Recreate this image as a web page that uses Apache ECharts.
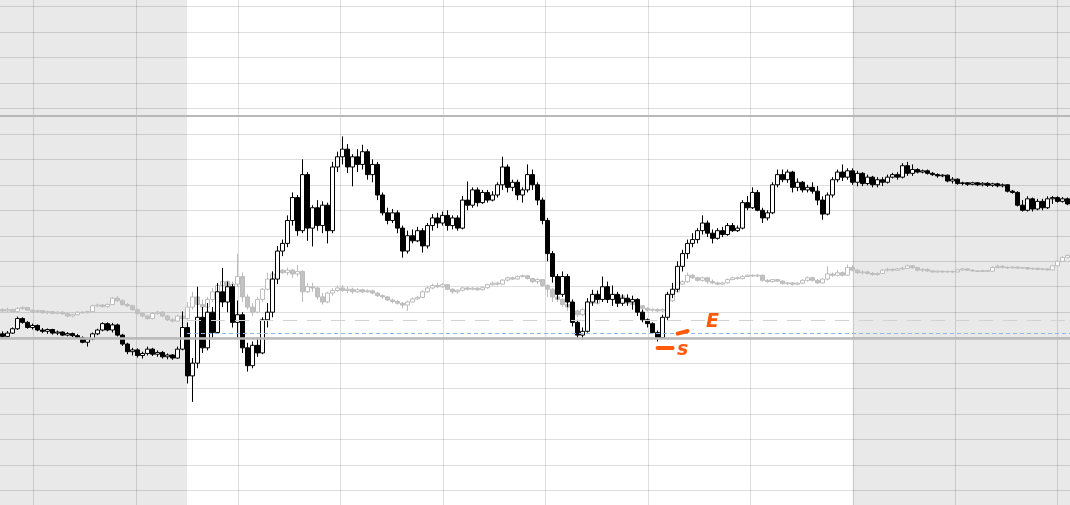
<!DOCTYPE html>
<html>
<head>
<meta charset="utf-8">
<script src="https://cdn.jsdelivr.net/npm/echarts@6/dist/echarts.min.js"></script>
<style>
html,body{margin:0;padding:0;background:#fff;overflow:hidden;width:1070px;height:505px;position:relative;}
#chart{position:absolute;left:-69.1px;top:-18.6px;width:1228.8px;height:534.9px;}
</style>
</head>
<body>
<div id="chart"></div>
<script>
// Candles: [open, close, low, high]
const blackCandles = [
[71.5,70.5,70,72.5],[70.5,71.8,70.2,72.6],[71.8,73.5,71.5,74],[73.5,77.5,73,78.3],[77.5,76,75.5,78],
[76,74,73.5,76.5],[74,74.8,73.2,75.5],[74.8,73,72.5,75.2],[73,72.5,71.8,73.8],[72.5,73.2,71.5,73.6],
[73.2,71.8,71.2,73.5],[71.8,72.2,71,72.8],[72.2,71,70.6,72.5],[71,71.6,70.5,72.2],[71.6,70.8,70.2,72],
[70.8,70,69.5,71.5],[70,68.2,67.8,70.5],[68.2,69.5,66.5,70],[69.5,71.5,69,72],[71.5,73,71,73.5],
[73,75.5,72.5,76],[75.5,73,72.5,76],[73,75,72,75.8],[75,71,70.5,75.5],[71,67.5,66.8,71.5],
[67.5,64.5,63.5,68],[64.5,65.2,63,66],[65.2,63,62.2,65.8],[63,63.8,61.8,64.5],[63.8,65.5,63,66.5],
[65.5,63.5,62.8,66],[63.5,64.2,62.5,65],[64.2,62.5,61.8,64.8],[62.5,63.2,61.5,63.8],[63.2,62,61.3,63.6],
[62,65.5,61.8,66.5],[65.5,74,65,80.3],[74,55,52,76],[55,60,44.8,62],[60,78,58,90],
[78,66,64,82],[66,80,65,83.6],[80,72,70,82],[72,88,71.5,91.5],[88,84,82,97.4],
[84,90,80,92],[90,76,74,91],[76,79,70,84.6],[79,66,64,80],[66,59,56.7,68],
[59,67,58,68.5],[67,64,62.5,70],[64,77,63.5,78],[77,80,74,83.6],[80,93,78,96],
[93,104,91,106],[104,107,102,108.5],[107,116,105.5,118],[116,125,114,127],[125,112,110,126],
[112,134,111,140],[134,113,108,135],[113,121,105.8,122],[121,114,112,124],[114,122,111,123.5],
[122,112,107,123],[112,137,111,139],[137,141,135,143],[141,144,138,149],[144,137,134.6,146],
[137,141,129.4,142],[141,138,135,144],[138,143,136,145.7],[143,134,132,144],[134,138,131,140],
[138,126,124,139],[126,119,118,127],[119,116,114.5,121],[116,119,115,120.5],[119,113,111,120],
[113,104,101.4,114],[104,110,103,112],[110,108,107,112.5],[108,112,107.5,113.5],[112,106,103.4,113],
[106,114,105,115],[114,117,112,118.5],[117,115,113,119],[115,118,114,119.5],[118,114,112,120],
[114,117,112.5,118],[117,113,112,118],[113,124,112.5,125.6],[124,122,120,131.3],[122,128,121,129],
[128,123,121.5,129],[123,127,122.5,128],[127,124,123,128],[124,126,123.5,127.5],[126,130,125,131],
[130,137,128,141],[137,129,127,138],[129,131,127.5,132],[131,126,124,132],[126,128,123,129],
[128,134,127,138],[134,130,128,136],[130,124,122,131],[124,116,114.5,125],[116,103,100,117],
[103,94,91.6,104],[94,87,85,95],[87,94,86,96],[94,84,82,95],[84,76,74.4,85],
[76,71,70,77],[71,72.5,69.2,74],[72.5,84,72,85.5],[84,87,82.5,88.8],[87,85,83.5,88.5],
[85,90,84,94],[90,85,83.6,92],[85,87,82.5,90.5],[87,83.5,82,88],[83.5,85.5,82.5,87],
[85.5,84,82.5,87],[84,85,81,86.5],[85,80,78.5,85.5],[80,77,76,81],[77,75.5,74,77.5],
[75.5,72,71.5,76],[72,70,68.5,72.8],[70,78,69.5,79],[78,87,77,88],[87,89,85.5,91.5],
[89,98,88,100],[98,103,96,104.5],[103,107,101,108.5],[107,108.5,105.5,111],[108.5,112,107,113],
[112,115,110.5,118],[115,111,109.5,116],[111,109,107,112.5],[109,112,108.5,113],[112,110.5,109.5,113.5],
[110.5,114,110,115],[114,112,111.5,115],[112,113,111.5,114],[113,123,112.5,124],[123,121,120,125.6],
[121,127,120.5,129],[127,120,119.6,128],[120,117,115,121],[117,119,116,120],[119,130,118.5,131],
[130,134,129,136],[134,132,131,136],[132,135,130.8,136],[135,129,127,135.5],[129,131,127.5,132.5],
[131,128,127,131.5],[128,129,127,130],[129,127.5,126.5,131],[127.5,124,122,129.5],[124,118.5,116.3,125.5],
[118.5,126,118,127],[126,132,125,133],[132,135,131,136],[135,133,131.5,138],[133,135.5,132,136.5],
[135.5,131,130,136.5],[131,134.5,129.4,135.5],[134.5,130.5,129.5,135],[130.5,133,129.8,134],[133,130,129,133.5],
[130,132,129,133],[132,131,129.5,133],[131,133,130.5,134],[133,134,132.5,134.7],[134,133,132,135],
[133,137.5,132.5,138.5],[137.5,134.5,133.5,139],[134.5,136,133.5,138],[136,135,134.5,136.5],[135,135.5,134.5,136],
[135.5,134.5,134,136],[134.5,134,133.5,135],[134,133.5,132.8,134.5],[133.5,133.8,133,134.2],[133.8,131.5,131,134],
[131.5,132.2,130.5,133],[132.2,130.5,130,132.5],[130.5,130.8,129.8,131.2],[130.8,130.2,129.6,131],[130.2,130.8,129.8,131.2],
[130.8,130,129.5,131],[130,130.6,129.4,131],[130.6,129.8,129.2,131],[129.8,130.4,129.2,130.8],[130.4,129.6,129,130.8],
[129.6,130,129,130.5],[130,127.5,127,130.2],[127.5,127,126.5,128],[127,122,121.5,127.5],[122,120,119.5,124],
[120,124.5,119.5,125.5],[124.5,120.5,119.5,125],[120.5,123.5,120,124.5],[123.5,121,120,124.5],[121,124.5,120.5,125.5],
[124.5,125,122.5,125.6],[125,123.5,123,125.5],[123.5,124.5,123,125.2],[124.5,122.5,122,125]
];

const grayCandles = [
[81,80.5,80,81.5],[80.5,81,80,81.8],[81,80.2,79.8,81.3],[80.2,81.5,80,82],[81.5,81.8,81,82.3],
[81.8,80.8,80.5,82],[80.8,80.3,79.8,81],[80.3,80.6,79.8,81],[80.6,79.8,79.4,80.8],[79.8,80.2,79.2,80.6],
[80.2,79.6,79.2,80.5],[79.6,80,79.2,80.4],[80,79.4,79,80.3],[79.4,78.5,78,79.6],[78.5,79,78,79.4],
[79,80,78.8,80.3],[80,79.8,79.4,80.4],[79.8,80.2,79.5,80.6],[80.2,82.5,80,83],[82.5,82.8,82,83.4],
[82.8,82.2,81.8,83.2],[82.2,83,81.8,83.5],[83,85.5,82.8,86],[85.5,84.5,84,86.3],[84.5,83,82.6,85],
[83,82.5,82,83.6],[82.5,81,80.5,83],[81,79.5,79,81.4],[79.5,78.5,78,80],[78.5,77.5,77,79],
[77.5,79.5,77.2,80],[79.5,80,79,80.5],[80,78.5,78,80.4],[78.5,77,76.5,79],[77,76.5,76,77.8],
[76.5,78.5,76.2,79],[78.5,77.5,76.8,80],[77.5,82,77,84],[82,86,81,88],[86,83,80.5,87],
[83,82,80,85],[82,85,81.5,86],[85,88,84,89.5],[88,90.5,87.5,91.5],[90.5,92,89.5,92.7],
[92,89,88,92.5],[89,91,88,92],[91,94,90,103],[94,86,84,95.6],[86,82,81,87],
[82,80,78.5,83.6],[80,85,79.5,86],[85,89,84,89.5],[89,93,88.5,95.5],[93,95,91,96],
[95,96.5,94,97.5],[96.5,95.5,95,97],[95.5,96.5,94.5,97.5],[96.5,95,93.5,97],[95,96,94,98.5],
[96,88,84,96.5],[88,90,87.5,91.5],[90,89.5,88,91.5],[89.5,86,85,90],[86,84,83,87.5],
[84,87.5,83.5,88],[87.5,88.5,86.5,89.5],[88.5,89.5,88,90.5],[89.5,88.5,88,90.7],[88.5,89,87.5,90],
[89,88,87.2,89.6],[88,88.8,87.5,89.4],[88.8,88,87.5,89.2],[88,88.4,87.6,89],[88.4,87.5,87,88.8],
[87.5,86.5,86,87.8],[86.5,86,85.2,87],[86,84.8,84.3,86.4],[84.8,84.2,83.5,85.3],[84.2,83.5,83,84.8],
[83.5,82.8,81.5,84],[82.8,84,80.5,84.5],[84,85.2,83.8,85.8],[85.2,85.8,84.8,86.3],[85.8,88,85.5,88.6],
[88,89.5,87.5,90.5],[89.5,90.5,89,91.2],[90.5,90,89.4,91.6],[90,90.8,89.6,91.4],[90.8,89,88.6,91],
[89,88,87.3,89.4],[88,88.6,87.2,89],[88.6,89.5,88.2,90],[89.5,89,88.5,90],[89,89.4,88.6,89.8],
[89.4,88.8,88.4,89.8],[88.8,89.6,88.5,90],[89.6,90.8,89.2,91.2],[90.8,91.4,90.4,92],[91.4,91,90.5,92],
[91,92.6,90.8,93],[92.6,93.5,92,94],[93.5,93,92.6,94],[93,94,92.8,94.5],[94,94.3,93.6,94.8],
[94.3,93.2,92.8,94.6],[93.2,92,91.5,93.5],[92,92.8,91,93.3],[92.8,90.5,90,93],[90.5,89,86,91],
[89,86,84,89.5],[86,85,84,87],[85,83,82,85.5],[83,82,80.5,84],[82,80.5,80,83],
[80.5,79,78,81],[79,81,78.5,81.7],[81,84,80.5,84.5],[84,83.5,83,85.5],[83.5,85,83,86],
[85,87.5,84.5,88],[87.5,86.5,85.5,89],[86.5,85.5,85,87],[85.5,86.5,85,87.2],[86.5,84.5,84,87],
[84.5,83.5,83,85],[83.5,83,82.3,84],[83,82.5,82,84],[82.5,81.5,80.8,82.8],[81.5,80.8,80.2,82],
[80.8,81,80.2,81.5],[81,80.5,80,81.5],[80.5,81,80,81.5],[81,84.5,80.8,85],[84.5,88,84,88.5],
[88,91,87.5,91.5],[91,92,90.6,92.5],[92,94.5,91.5,95.6],[94.5,93.5,93,95],[93.5,92.5,92,94],
[92.5,93.5,92,94],[93.5,92,91.2,93.8],[92,91.5,91,92.8],[91.5,91,90.6,92],[91,91.5,90.6,92],
[91.5,92.8,91.2,93.2],[92.8,93.5,92.5,94],[93.5,93.2,92.8,94],[93.2,94,92.8,94.5],[94,94.5,93.8,94.8],
[94.5,94.2,93.8,94.8],[94.2,94.5,93.8,95],[94.5,92.5,92,94.8],[92.5,92,91.5,93],[92,92.8,91.6,93],
[92.8,92.2,91.8,93],[92.2,91.2,90.8,92.5],[91.2,91.5,90.6,91.8],[91.5,91,90.5,91.8],[91,91.4,90.6,91.8],
[91.4,92.5,91,93],[92.5,93.5,92,94],[93.5,92.5,92,94],[92.5,91.5,91,93],[91.5,93,91.2,93.5],
[93,95,92.5,98],[95,94.5,93.8,95.6],[94.5,95.5,94,96.6],[95.5,94.5,94,96],[94.5,97.5,94.2,98.7],
[97.5,96.5,96,98.5],[96.5,95.5,95,97],[95.5,95.8,94.8,96.3],[95.8,95.2,94.8,96.2],[95.2,94.8,94.3,95.8],
[94.8,95.2,94.3,95.6],[95.2,96.5,95,97],[96.5,96.8,96,97.4],[96.8,96.5,96,97.2],[96.5,97,96.2,97.4],
[97,97.2,96.5,97.8],[97.2,98.2,97,98.7],[98.2,97.5,97,98.5],[97.5,96.5,96,97.8],[96.5,96.8,95.8,97.2],
[96.8,96.2,95.8,97.2],[96.2,95.8,95.5,96.5],[95.8,96.1,95.6,96.4],[96.1,95.8,95.5,96.3],[95.8,96,95.5,96.3],
[96,95.8,95.5,96.3],[95.8,96.6,95.6,97],[96.6,97,96.3,97.4],[97,96.5,96.2,97.2],[96.5,96.2,95.8,96.8],
[96.2,96,95.7,96.5],[96,96.3,95.8,96.6],[96.3,96.1,95.8,96.5],[96.1,97.5,96,98],[97.5,98,97.2,98.7],
[98,97.6,97.2,98.5],[97.6,97.4,97,98],[97.4,97.7,97.1,98],[97.7,97.3,97,98],[97.3,97.5,97,97.8],
[97.5,97,96.6,97.8],[97,97.2,96.6,97.5],[97.2,96.8,96.5,97.5],[96.8,97,96.5,97.3],[97,96.6,96.3,97.2],
[96.6,98.2,96.4,98.6],[98.2,100,98,100.4],[100,101.5,99.8,101.9],[101.5,102.3,101.2,102.6]
];

const categories = blackCandles.map((_, i) => String(i));

// Horizontal reference levels (price units)
const upperLevel = 157.3;
const lowerLevel = 69.6;
const grayDashLevel = 77.0;
const blueDashLevel = 71.8;
const dashStart = 2.5, dashEnd = 12;

// Shaded session bands on the grid's column scale
const shadedBands = [[0, 2.5], [9, 12]];

// Orange annotation strokes (candle index, price) and letters
const noteStrokes = [
  [[131.4, 66.0], [133.6, 66.0]],
  [[134.8, 71.6], [137.4, 72.6]]
];
const noteLetters = [
  [136.3, 65.2, 's'],
  [141.9, 76.0, 'E']
];

const chart = echarts.init(document.getElementById('chart'), null, {renderer: 'canvas'});

const orange = '#ff5a0a';

const option = {
  animation: false,
  backgroundColor: '#fff',
  grid: [
    {left: 0, right: 0, top: 0, bottom: 0, containLabel: false},
    {left: 69.1, width: 1070, top: 0, bottom: 0, containLabel: false}
  ],
  xAxis: [
    {type: 'value', gridIndex: 0, min: 0, max: 12, interval: 1,
     axisLine: {show: false}, axisTick: {show: false}, axisLabel: {show: false},
     splitLine: {show: true, lineStyle: {color: 'rgba(0,0,0,0.13)', width: 1}}},
    {type: 'category', gridIndex: 1, data: categories, boundaryGap: true,
     axisLine: {show: false}, axisTick: {show: false}, axisLabel: {show: false},
     splitLine: {show: false}}
  ],
  yAxis: [
    {type: 'value', gridIndex: 0, min: 0, max: 210, interval: 10,
     axisLine: {show: false}, axisTick: {show: false}, axisLabel: {show: false},
     splitLine: {show: true, lineStyle: {color: 'rgba(0,0,0,0.13)', width: 1}}},
    {type: 'value', gridIndex: 1, min: 0, max: 210, interval: 10,
     axisLine: {show: false}, axisTick: {show: false}, axisLabel: {show: false},
     splitLine: {show: false}}
  ],
  series: [
    {
      type: 'line', xAxisIndex: 0, yAxisIndex: 0, data: [], silent: true,
      markArea: {
        silent: true,
        itemStyle: {color: 'rgba(0,0,0,0.085)'},
        data: shadedBands.map(b => [{xAxis: b[0]}, {xAxis: b[1]}])
      },
      markLine: {
        silent: true, symbol: 'none', label: {show: false},
        data: [
          {yAxis: upperLevel, lineStyle: {color: '#b8b8b8', width: 2, type: 'solid'}},
          {yAxis: lowerLevel, lineStyle: {color: '#bababa', width: 2.5, type: 'solid'}},
          [{coord: [dashStart, grayDashLevel], lineStyle: {color: '#d2d2d2', width: 1, type: [14, 10]}}, {coord: [dashEnd, grayDashLevel]}],
          [{coord: [dashStart, blueDashLevel], lineStyle: {color: '#8db7ea', width: 1, type: [4, 3]}}, {coord: [dashEnd, blueDashLevel]}]
        ]
      }
    },
    {
      type: 'candlestick', xAxisIndex: 1, yAxisIndex: 1, data: grayCandles,
      barWidth: 4, silent: true,
      itemStyle: {color: '#ffffff', color0: '#c2c2c2', borderColor: '#bcbcbc', borderColor0: '#bcbcbc', borderColorDoji: '#bcbcbc', borderWidth: 1}
    },
    {
      type: 'candlestick', xAxisIndex: 1, yAxisIndex: 1, data: blackCandles,
      barWidth: 4, silent: true,
      itemStyle: {color: '#ffffff', color0: '#000000', borderColor: '#000000', borderColor0: '#000000', borderColorDoji: '#000000', borderWidth: 1},
      markLine: {
        silent: true, symbol: 'none', label: {show: false},
        lineStyle: {color: orange, width: 4, type: 'solid', cap: 'round'},
        data: noteStrokes.map(s => [{coord: s[0]}, {coord: s[1]}])
      },
      markPoint: {
        silent: true, symbol: 'circle', symbolSize: 0,
        label: {show: true, position: 'inside', color: orange, fontSize: 19, fontWeight: 'bold', fontStyle: 'italic', fontFamily: 'DejaVu Sans'},
        data: noteLetters.map(n => ({coord: [n[0], n[1]], value: n[2], label: {formatter: n[2]}}))
      }
    }
  ]
};
chart.setOption(option);
</script>
</body>
</html>
